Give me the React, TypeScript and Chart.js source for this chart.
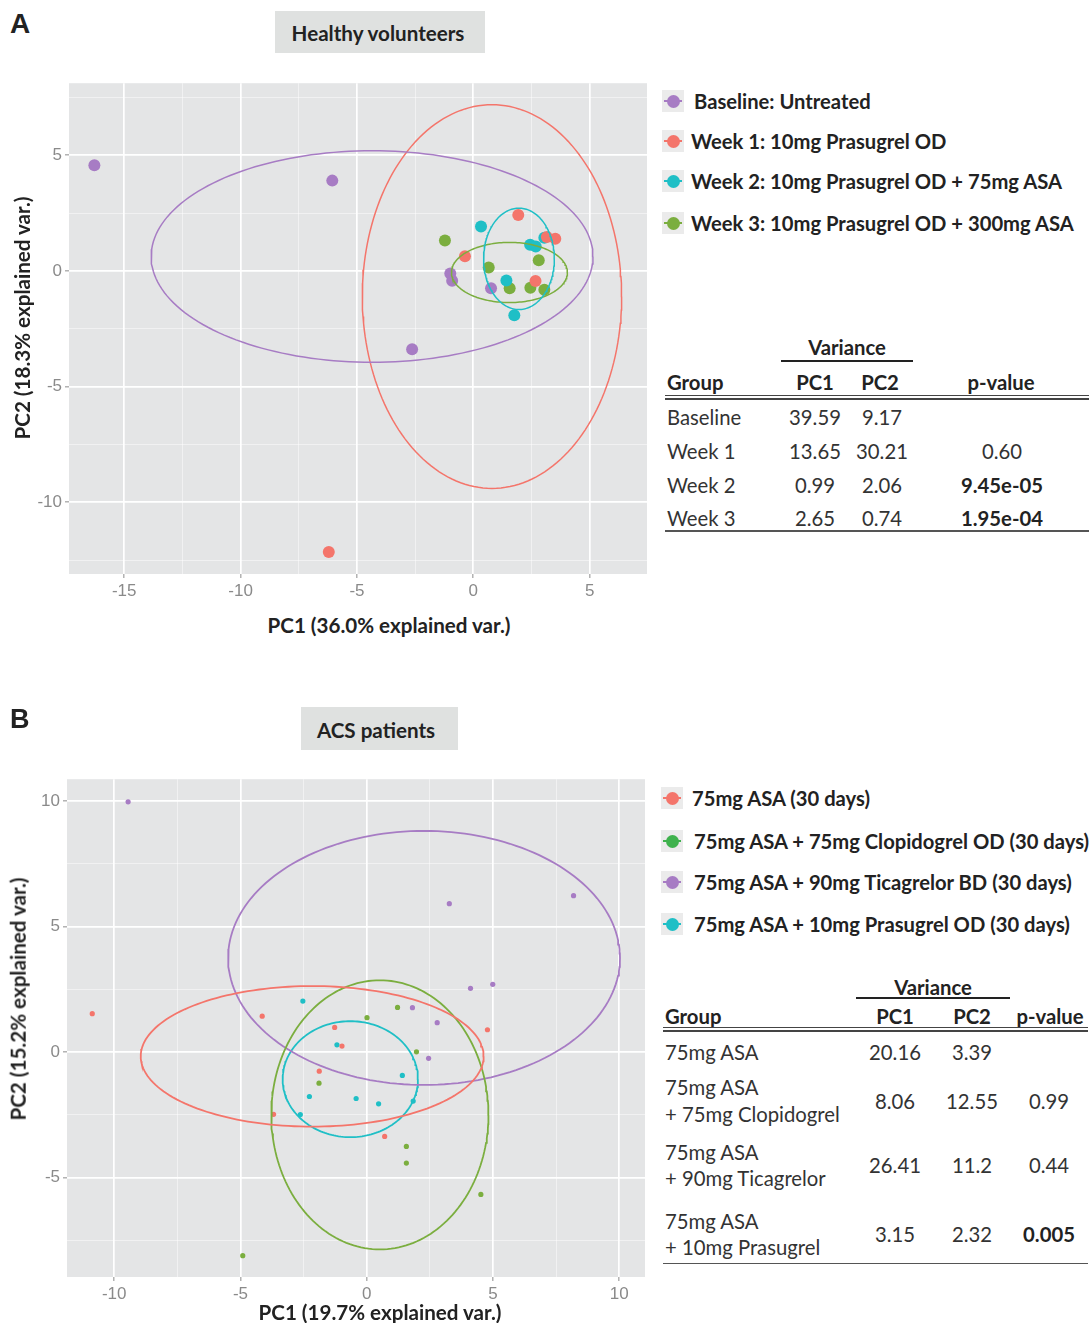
import React, { useEffect, useRef } from "react";
import { Chart, registerables } from "chart.js";
Chart.register(...registerables);

// ================= Panel A: Healthy volunteers =================
const groupsA = [
  "Baseline: Untreated",
  "Week 1: 10mg Prasugrel OD",
  "Week 2: 10mg Prasugrel OD + 75mg ASA",
  "Week 3: 10mg Prasugrel OD + 300mg ASA",
];
const colorsA = ["#a77cc4", "#f4756b", "#1fbfc6", "#7bae3f"];
const baselinePC1 = [-16.28, -6.06, -0.99, -0.91, 0.76, -2.63];
const baselinePC2 = [4.56, 3.9, -0.11, -0.43, -0.75, -3.39];
const week1PC1 = [-6.21, -0.36, 1.93, 3.16, 3.52, 2.67];
const week1PC2 = [-12.15, 0.63, 2.41, 1.46, 1.39, -0.44];
const week2PC1 = [0.33, 2.44, 2.68, 3.05, 1.42, 1.76];
const week2PC2 = [1.92, 1.13, 1.05, 1.43, -0.42, -1.92];
const week3PC1 = [-1.22, 0.66, 2.81, 1.56, 2.45, 3.05];
const week3PC2 = [1.31, 0.15, 0.46, -0.75, -0.73, -0.82];
// confidence ellipses (centre / radii) per group, same order as groupsA
const ellCxA = [-4.35, 0.8, 1.96, 1.55];
const ellCyA = [0.62, -1.11, 0.52, -0.07];
const ellRxA = [9.49, 5.57, 1.52, 2.49];
const ellRyA = [4.57, 8.29, 2.19, 1.3];

const tableAGroups = ["Baseline", "Week 1", "Week 2", "Week 3"];
const tableAPC1 = ["39.59", "13.65", "0.99", "2.65"];
const tableAPC2 = ["9.17", "30.21", "2.06", "0.74"];
const tableAP = ["", "0.60", "9.45e-05", "1.95e-04"];

// ================= Panel B: ACS patients =================
const groupsB = [
  "75mg ASA (30 days)",
  "75mg ASA + 75mg Clopidogrel OD (30 days)",
  "75mg ASA + 90mg Ticagrelor BD (30 days)",
  "75mg ASA + 10mg Prasugrel OD (30 days)",
];
const colorsB = ["#f4756b", "#7bae3f", "#a77cc4", "#1fbfc6"];
const legendColorsB = ["#f4756b", "#3fb24d", "#a77cc4", "#1fbfc6"];
const asaPC1 = [-10.87, -4.14, -1.27, -0.98, -1.88, -3.69, 0.71, 4.78];
const asaPC2 = [1.53, 1.43, 0.98, 0.24, -0.76, -2.48, -3.36, 0.89];
const clopPC1 = [1.22, 0.01, 1.97, -1.89, 1.57, 1.57, 4.52, -4.91];
const clopPC2 = [1.78, 1.37, 0.01, -1.24, -3.76, -4.42, -5.67, -8.11];
const ticaPC1 = [-9.45, 3.27, 8.19, 4.11, 4.99, 1.81, 2.79, 2.45];
const ticaPC2 = [9.97, 5.91, 6.23, 2.54, 2.7, 1.77, 1.17, -0.25];
const prasPC1 = [-2.53, -1.18, 1.41, -2.27, -0.42, 0.47, 1.84, -2.63];
const prasPC2 = [2.03, 0.29, -0.93, -1.77, -1.85, -2.06, -1.95, -2.49];
const ellCxB = [-2.16, 0.52, 2.27, -0.65];
const ellCyB = [-0.17, -2.5, 3.75, -1.08];
const ellRxB = [6.79, 4.3, 7.76, 2.68];
const ellRyB = [2.8, 5.36, 5.06, 2.31];

const tableBGroups = [
  ["75mg ASA"],
  ["75mg ASA", "+ 75mg Clopidogrel"],
  ["75mg ASA", "+ 90mg Ticagrelor"],
  ["75mg ASA", "+ 10mg Prasugrel"],
];
const tableBPC1 = ["20.16", "8.06", "26.41", "3.15"];
const tableBPC2 = ["3.39", "12.55", "11.2", "2.32"];
const tableBP = ["", "0.99", "0.44", "0.005"];

// ================= helpers =================
const FONT = "Lato, 'Open Sans', sans-serif";
const TICK_FONT = "'Liberation Sans', Arial, sans-serif";

function ellipsePath(cx: number, cy: number, rx: number, ry: number) {
  const pts: { x: number; y: number }[] = [];
  const n = 180;
  for (let i = 0; i <= n; i++) {
    const t = (i / n) * Math.PI * 2;
    pts.push({ x: cx + rx * Math.cos(t), y: cy + ry * Math.sin(t) });
  }
  return pts;
}

const panelBg = {
  id: "panelBg",
  beforeDraw(chart: any) {
    const { ctx, chartArea: a } = chart;
    ctx.save();
    ctx.fillStyle = "#e4e5e6";
    ctx.fillRect(a.left, a.top, a.right - a.left, a.bottom - a.top);
    ctx.restore();
  },
};

const isMajor = (v: number) => Math.abs(v % 5) < 1e-9;

function axis(min: number, max: number, fit: (s: any) => void) {
  return {
    type: "linear" as const,
    min,
    max,
    afterFit: fit,
    border: { display: false },
    ticks: {
      stepSize: 2.5,
      includeBounds: false,
      autoSkip: false,
      maxRotation: 0,
      padding: 3,
      color: "#8a8a8a",
      font: { family: TICK_FONT, size: 17 },
      callback: (v: any) => (isMajor(Number(v)) ? String(v) : ""),
    },
    grid: {
      drawTicks: true,
      tickLength: 4,
      color: (c: any) => (c.tick && isMajor(c.tick.value) ? "#ffffff" : "rgba(255,255,255,0.6)"),
      lineWidth: (c: any) => (c.tick && isMajor(c.tick.value) ? 1.7 : 0.8),
      tickColor: (c: any) => (c.tick && isMajor(c.tick.value) ? "#8c8c8c" : "rgba(0,0,0,0)"),
      tickWidth: 1,
    },
  };
}

function buildConfig(p: {
  xs: number[][];
  ys: number[][];
  labels: string[];
  colors: string[];
  ecx: number[];
  ecy: number[];
  erx: number[];
  ery: number[];
  radius: number;
  lineW: number;
  xMin: number;
  xMax: number;
  yMin: number;
  yMax: number;
  yWidth: number;
  padRight: number;
}) {
  const datasets: any[] = [];
  p.xs.forEach((xs, g) => {
    datasets.push({
      type: "scatter",
      label: p.labels[g],
      data: xs.map((x, i) => ({ x, y: p.ys[g][i] })),
      backgroundColor: p.colors[g],
      borderColor: p.colors[g],
      pointRadius: p.radius,
      pointBorderWidth: 0,
      pointHoverRadius: p.radius,
      order: 2,
    });
    datasets.push({
      type: "scatter",
      label: p.labels[g] + " ellipse",
      data: ellipsePath(p.ecx[g], p.ecy[g], p.erx[g], p.ery[g]),
      showLine: true,
      pointRadius: 0,
      borderColor: p.colors[g],
      borderWidth: p.lineW,
      backgroundColor: "rgba(0,0,0,0)",
      fill: false,
      tension: 0,
      order: 1,
    });
  });
  return {
    type: "scatter" as const,
    data: { datasets },
    plugins: [panelBg],
    options: {
      animation: false as const,
      responsive: false,
      maintainAspectRatio: false,
      events: [],
      layout: { padding: { top: 12, right: p.padRight, left: 0, bottom: 0 } },
      plugins: { legend: { display: false }, tooltip: { enabled: false } },
      scales: {
        x: axis(p.xMin, p.xMax, (s: any) => {
          s.height = 30;
        }),
        y: axis(p.yMin, p.yMax, (s: any) => {
          s.width = p.yWidth;
        }),
      },
    },
  };
}

function ChartCanvas({ config, left, top, width, height }: any) {
  const ref = useRef<HTMLCanvasElement>(null);
  useEffect(() => {
    const chart = new Chart(ref.current as HTMLCanvasElement, config as any);
    return () => chart.destroy();
  }, []);
  return (
    <canvas
      ref={ref}
      width={width}
      height={height}
      style={{ position: "absolute", left, top, width, height }}
    />
  );
}

function T({ x, y, children, anchor = "start", size = 20, bold = false, color = "#333", rotate = false }: any) {
  const tx = anchor === "middle" ? "-50%" : anchor === "end" ? "-100%" : "0";
  return (
    <div
      style={{
        position: "absolute",
        left: x,
        top: y,
        transform: rotate ? "translate(-50%, -50%) rotate(-90deg)" : `translate(${tx}, -50%)`,
        whiteSpace: "nowrap",
        fontFamily: FONT,
        fontSize: size,
        fontWeight: bold ? 700 : 400,
        color,
        lineHeight: 1,
      }}
    >
      {children}
    </div>
  );
}

function HLine({ x1, x2, y, w = 1.5, color = "#333" }: any) {
  return (
    <div style={{ position: "absolute", left: x1, top: y - w / 2, width: x2 - x1, height: w, background: color }} />
  );
}

function LegendKey({ x, y, color }: any) {
  return (
    <div style={{ position: "absolute", left: x - 11, top: y - 11, width: 22, height: 22, background: "#ebebeb" }}>
      <div style={{ position: "absolute", left: 2, top: 10, width: 18, height: 1.6, background: color }} />
      <div
        style={{
          position: "absolute",
          left: 4.5,
          top: 4.5,
          width: 13,
          height: 13,
          borderRadius: "50%",
          background: color,
        }}
      />
    </div>
  );
}

const isSig = (p: string) => p !== "" && parseFloat(p) < 0.05;

export default function App() {
  const cfgA = buildConfig({
    xs: [baselinePC1, week1PC1, week2PC1, week3PC1],
    ys: [baselinePC2, week1PC2, week2PC2, week3PC2],
    labels: groupsA,
    colors: colorsA,
    ecx: ellCxA,
    ecy: ellCyA,
    erx: ellRxA,
    ery: ellRyA,
    radius: 6,
    lineW: 1.5,
    xMin: -17.37,
    xMax: 7.46,
    yMin: -13.1,
    yMax: 8.11,
    yWidth: 69,
    padRight: 13,
  });
  const cfgB = buildConfig({
    xs: [asaPC1, clopPC1, ticaPC1, prasPC1],
    ys: [asaPC2, clopPC2, ticaPC2, prasPC2],
    labels: groupsB,
    colors: colorsB,
    ecx: ellCxB,
    ecy: ellCyB,
    erx: ellRxB,
    ery: ellRyB,
    radius: 2.6,
    lineW: 1.8,
    xMin: -11.87,
    xMax: 11.02,
    yMin: -8.96,
    yMax: 10.87,
    yWidth: 67,
    padRight: 15,
  });

  const legendYA = [101, 141, 181, 223];
  const legendYB = [798, 841, 882, 924];
  const rowYA = [417, 451, 485, 518];
  const rowYB = [1051.7, 1100.7, 1165, 1234];
  const LS = 20.2; // legend font size
  const TS = 20.3; // table font size
  const AS = 20.6; // axis title font size

  return (
    <div style={{ position: "absolute", left: 0, top: 0, width: 1090, height: 1323, background: "#fff", overflow: "hidden" }}>
      {/* ---------------- Panel A ---------------- */}
      <div style={{ position: "absolute", left: 10, top: 10, fontFamily: TICK_FONT, fontWeight: 700, fontSize: 28, lineHeight: 1, color: "#222" }}>A</div>
      <div style={{ position: "absolute", left: 275, top: 11, width: 210, height: 42, background: "#dfe1e0" }} />
      <T x={378} y={33} anchor="middle" size={20.6} bold color="#222">Healthy volunteers</T>
      <ChartCanvas config={cfgA} left={0} top={70} width={660} height={534} />
      <T x={22} y={318} rotate size={AS} bold color="#222">PC2 (18.3% explained var.)</T>
      <T x={389} y={625} anchor="middle" size={AS} bold color="#222">PC1 (36.0% explained var.)</T>

      {groupsA.map((g, i) => (
        <React.Fragment key={g}>
          <LegendKey x={673} y={legendYA[i]} color={colorsA[i]} />
          <T x={i === 0 ? 694 : 691} y={legendYA[i]} size={LS} bold color="#222">{g}</T>
        </React.Fragment>
      ))}

      <T x={847} y={347} anchor="middle" size={TS} bold color="#222">Variance</T>
      <HLine x1={781} x2={913} y={361} w={2} color="#222" />
      <T x={667} y={382} size={TS} bold color="#222">Group</T>
      <T x={815} y={382} anchor="middle" size={TS} bold color="#222">PC1</T>
      <T x={880} y={382} anchor="middle" size={TS} bold color="#222">PC2</T>
      <T x={1001} y={382} anchor="middle" size={TS} bold color="#222">p-value</T>
      <HLine x1={665} x2={1089} y={395.5} w={1.8} color="#444" />
      <HLine x1={665} x2={1089} y={399} w={1.5} color="#444" />
      {tableAGroups.map((g, i) => (
        <React.Fragment key={g}>
          <T x={667} y={rowYA[i]} size={TS}>{g}</T>
          <T x={815} y={rowYA[i]} anchor="middle" size={TS}>{tableAPC1[i]}</T>
          <T x={882} y={rowYA[i]} anchor="middle" size={TS}>{tableAPC2[i]}</T>
          <T x={1002} y={rowYA[i]} anchor="middle" size={TS} bold={isSig(tableAP[i])} color={isSig(tableAP[i]) ? "#222" : "#333"}>{tableAP[i]}</T>
        </React.Fragment>
      ))}
      <HLine x1={665} x2={1089} y={531} w={1.5} color="#555" />

      {/* ---------------- Panel B ---------------- */}
      <div style={{ position: "absolute", left: 10, top: 706, fontFamily: TICK_FONT, fontWeight: 700, fontSize: 27, lineHeight: 1, color: "#222" }}>B</div>
      <div style={{ position: "absolute", left: 301, top: 707, width: 157, height: 43, background: "#dfe1e0" }} />
      <T x={376} y={730} anchor="middle" size={20.6} bold color="#222">ACS patients</T>
      <ChartCanvas config={cfgB} left={0} top={766} width={660} height={541} />
      <T x={18} y={999} rotate size={AS} bold color="#222">PC2 (15.2% explained var.)</T>
      <T x={380} y={1312} anchor="middle" size={AS} bold color="#222">PC1 (19.7% explained var.)</T>

      {groupsB.map((g, i) => (
        <React.Fragment key={g}>
          <LegendKey x={672} y={legendYB[i]} color={legendColorsB[i]} />
          <T x={i === 0 ? 692 : 694} y={legendYB[i]} size={LS} bold color="#222">{g}</T>
        </React.Fragment>
      ))}

      <T x={933} y={987} anchor="middle" size={TS} bold color="#222">Variance</T>
      <HLine x1={856} x2={1010} y={997.5} w={2} color="#222" />
      <T x={665} y={1016} size={TS} bold color="#222">Group</T>
      <T x={895} y={1016} anchor="middle" size={TS} bold color="#222">PC1</T>
      <T x={972} y={1016} anchor="middle" size={TS} bold color="#222">PC2</T>
      <T x={1050} y={1016} anchor="middle" size={TS} bold color="#222">p-value</T>
      <HLine x1={663} x2={1088} y={1027.5} w={1.8} color="#444" />
      <HLine x1={663} x2={1088} y={1031} w={1.5} color="#444" />
      {tableBGroups.map((lines, i) => (
        <React.Fragment key={i}>
          {lines.map((ln, k) => (
            <T key={k} x={665} y={lines.length === 1 ? rowYB[i] : rowYB[i] + (k === 0 ? -13.3 : 13.3)} size={TS}>{ln}</T>
          ))}
          <T x={895} y={rowYB[i]} anchor="middle" size={TS}>{tableBPC1[i]}</T>
          <T x={972} y={rowYB[i]} anchor="middle" size={TS}>{tableBPC2[i]}</T>
          <T x={1049} y={rowYB[i]} anchor="middle" size={TS} bold={isSig(tableBP[i])} color={isSig(tableBP[i]) ? "#222" : "#333"}>{tableBP[i]}</T>
        </React.Fragment>
      ))}
      <HLine x1={663} x2={1088} y={1263.5} w={1.5} color="#555" />
    </div>
  );
}
